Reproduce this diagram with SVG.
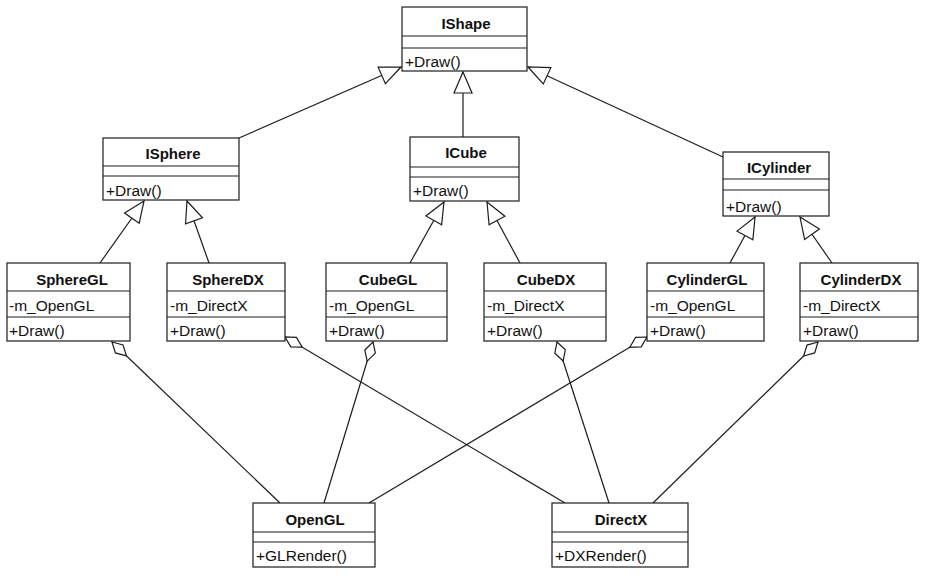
<svg xmlns="http://www.w3.org/2000/svg" width="926" height="576" viewBox="0 0 926 576">
  <style>
    .box { fill: #fff; stroke: #1c1c1c; stroke-width: 1.2; }
    .sep { stroke: #1c1c1c; stroke-width: 1.2; }
    .name { font-family: "Liberation Sans", Arial, sans-serif; font-size: 15px; font-weight: bold; fill: #111; text-anchor: middle; }
    .mem { font-family: "Liberation Sans", Arial, sans-serif; font-size: 15.5px; fill: #111; }
    .gen { fill: none; stroke: #1c1c1c; stroke-width: 1.2; marker-end: url(#tri); }
    .agg { fill: none; stroke: #1c1c1c; stroke-width: 1.2; marker-end: url(#dia); }
  </style>
  <defs>
    <!-- hollow triangle: generalization -->
    <marker id="tri" markerUnits="userSpaceOnUse" markerWidth="24" markerHeight="22" viewBox="-22 -11 24 22" refX="0" refY="0" orient="auto">
      <path d="M0,0 L-21,-9 L-21,9 Z" fill="#fff" stroke="#1c1c1c" stroke-width="1.2"/>
    </marker>
    <!-- hollow diamond: aggregation -->
    <marker id="dia" markerUnits="userSpaceOnUse" markerWidth="24" markerHeight="16" viewBox="-22 -8 24 16" refX="0" refY="0" orient="auto">
      <path d="M0,0 L-10,-5.5 L-20,0 L-10,5.5 Z" fill="#fff" stroke="#1c1c1c" stroke-width="1.2"/>
    </marker>
  </defs>
  <rect width="926" height="576" fill="#fff"/>

  <g id="connectors">
    <!-- generalization -->
    <line class="gen" x1="239" y1="138" x2="401" y2="67"/>
    <line class="gen" x1="463" y1="137" x2="463" y2="72"/>
    <line class="gen" x1="723" y1="157" x2="528" y2="67"/>
    <line class="gen" x1="100" y1="263" x2="144" y2="201"/>
    <line class="gen" x1="209" y1="263" x2="187" y2="201"/>
    <line class="gen" x1="410" y1="263" x2="444" y2="202"/>
    <line class="gen" x1="520" y1="263" x2="487" y2="202"/>
    <line class="gen" x1="730" y1="263" x2="755" y2="217"/>
    <line class="gen" x1="832" y1="263" x2="800" y2="217"/>
    <!-- aggregation -->
    <line class="agg" x1="280" y1="503" x2="112" y2="342"/>
    <line class="agg" x1="565" y1="503" x2="285" y2="337"/>
    <line class="agg" x1="324" y1="503" x2="373" y2="342"/>
    <line class="agg" x1="609" y1="503" x2="557" y2="342"/>
    <line class="agg" x1="369" y1="503" x2="647" y2="337"/>
    <line class="agg" x1="653" y1="503" x2="818" y2="342"/>
  </g>

  <g id="IShape">
    <rect class="box" x="402" y="7" width="125" height="64"/>
    <line class="sep" x1="402" y1="36" x2="527" y2="36"/>
    <line class="sep" x1="402" y1="48" x2="527" y2="48"/>
    <text class="name" x="466" y="29">IShape</text>
    <text class="mem" x="405" y="67">+Draw()</text>
  </g>

  <g id="ISphere">
    <rect class="box" x="103" y="138" width="136" height="62"/>
    <line class="sep" x1="103" y1="166" x2="239" y2="166"/>
    <line class="sep" x1="103" y1="176" x2="239" y2="176"/>
    <text class="name" x="173" y="159">ISphere</text>
    <text class="mem" x="106" y="196">+Draw()</text>
  </g>

  <g id="ICube">
    <rect class="box" x="410" y="137" width="109" height="64"/>
    <line class="sep" x1="410" y1="167" x2="519" y2="167"/>
    <line class="sep" x1="410" y1="177" x2="519" y2="177"/>
    <text class="name" x="466" y="158">ICube</text>
    <text class="mem" x="413" y="196">+Draw()</text>
  </g>

  <g id="ICylinder">
    <rect class="box" x="723" y="152" width="106" height="64"/>
    <line class="sep" x1="723" y1="179" x2="829" y2="179"/>
    <line class="sep" x1="723" y1="190" x2="829" y2="190"/>
    <text class="name" x="779" y="173">ICylinder</text>
    <text class="mem" x="726" y="212">+Draw()</text>
  </g>

  <g id="SphereGL">
    <rect class="box" x="7" y="263" width="123" height="78"/>
    <line class="sep" x1="7" y1="291" x2="130" y2="291"/>
    <line class="sep" x1="7" y1="317" x2="130" y2="317"/>
    <text class="name" x="72" y="285">SphereGL</text>
    <text class="mem" x="9" y="311">-m_OpenGL</text>
    <text class="mem" x="9" y="336">+Draw()</text>
  </g>

  <g id="SphereDX">
    <rect class="box" x="167" y="263" width="118" height="78"/>
    <line class="sep" x1="167" y1="291" x2="285" y2="291"/>
    <line class="sep" x1="167" y1="317" x2="285" y2="317"/>
    <text class="name" x="228" y="285">SphereDX</text>
    <text class="mem" x="170" y="311">-m_DirectX</text>
    <text class="mem" x="170" y="336">+Draw()</text>
  </g>

  <g id="CubeGL">
    <rect class="box" x="326" y="263" width="121" height="78"/>
    <line class="sep" x1="326" y1="291" x2="447" y2="291"/>
    <line class="sep" x1="326" y1="317" x2="447" y2="317"/>
    <text class="name" x="388" y="285">CubeGL</text>
    <text class="mem" x="329" y="311">-m_OpenGL</text>
    <text class="mem" x="329" y="336">+Draw()</text>
  </g>

  <g id="CubeDX">
    <rect class="box" x="484" y="263" width="122" height="78"/>
    <line class="sep" x1="484" y1="291" x2="606" y2="291"/>
    <line class="sep" x1="484" y1="317" x2="606" y2="317"/>
    <text class="name" x="546" y="285">CubeDX</text>
    <text class="mem" x="487" y="311">-m_DirectX</text>
    <text class="mem" x="487" y="336">+Draw()</text>
  </g>

  <g id="CylinderGL">
    <rect class="box" x="647" y="263" width="117" height="78"/>
    <line class="sep" x1="647" y1="291" x2="764" y2="291"/>
    <line class="sep" x1="647" y1="317" x2="764" y2="317"/>
    <text class="name" x="707" y="285">CylinderGL</text>
    <text class="mem" x="650" y="311">-m_OpenGL</text>
    <text class="mem" x="650" y="336">+Draw()</text>
  </g>

  <g id="CylinderDX">
    <rect class="box" x="800" y="263" width="118" height="78"/>
    <line class="sep" x1="800" y1="291" x2="918" y2="291"/>
    <line class="sep" x1="800" y1="317" x2="918" y2="317"/>
    <text class="name" x="861" y="285">CylinderDX</text>
    <text class="mem" x="803" y="311">-m_DirectX</text>
    <text class="mem" x="803" y="336">+Draw()</text>
  </g>

  <g id="OpenGL">
    <rect class="box" x="253" y="503" width="122" height="64"/>
    <line class="sep" x1="253" y1="532" x2="375" y2="532"/>
    <line class="sep" x1="253" y1="542" x2="375" y2="542"/>
    <text class="name" x="315" y="525">OpenGL</text>
    <text class="mem" x="256" y="561">+GLRender()</text>
  </g>

  <g id="DirectX">
    <rect class="box" x="552" y="503" width="136" height="64"/>
    <line class="sep" x1="552" y1="532" x2="688" y2="532"/>
    <line class="sep" x1="552" y1="542" x2="688" y2="542"/>
    <text class="name" x="621" y="525">DirectX</text>
    <text class="mem" x="555" y="561">+DXRender()</text>
  </g>
</svg>
